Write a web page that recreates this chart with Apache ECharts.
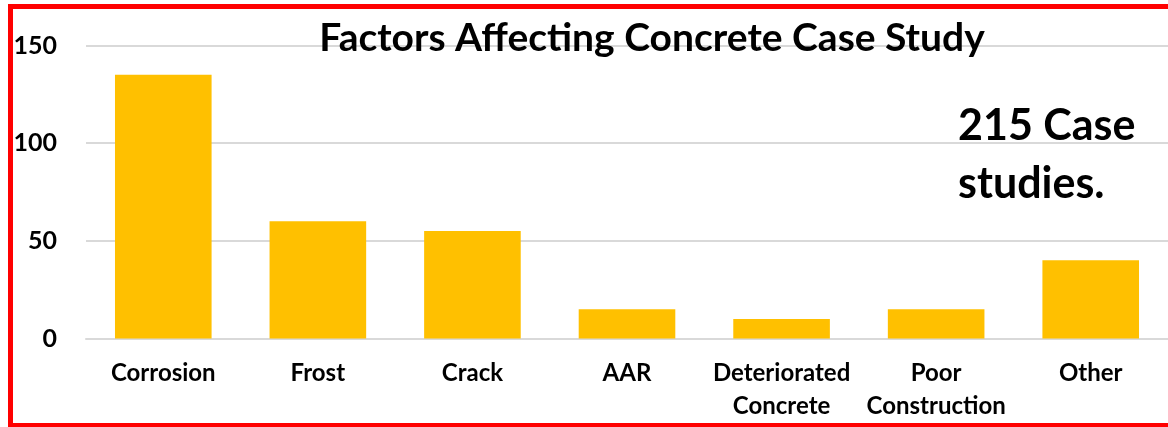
<!DOCTYPE html>
<html>
<head>
<meta charset="utf-8">
<script src="https://cdn.jsdelivr.net/npm/echarts@6/dist/echarts.min.js"></script>
<style>
html,body{margin:0;padding:0;background:#fff;}
#c{width:1168px;height:427px;}
</style>
</head>
<body>
<div id="c"></div>
<script>
const categories = ['Corrosion', 'Frost', 'Crack', 'AAR', 'Deteriorated\nConcrete', 'Poor\nConstruction', 'Other'];
const values = [135, 60, 55, 15, 10, 15, 40];
const yTicks = [0, 50, 100, 150];
const titleText = 'Factors Affecting Concrete Case Study';
const noteText = '215 Case\nstudies.';

const chart = echarts.init(document.getElementById('c'), null, {renderer: 'canvas'});
const FONT = 'Lato';
chart.setOption({
  animation: false,
  backgroundColor: '#ffffff',
  title: {
    text: titleText,
    left: 647,
    top: 14,
    textAlign: 'center',
    textStyle: {fontFamily: FONT, fontWeight: 'bold', fontSize: 39, color: '#000'}
  },
  grid: {left: 86, top: 45.5, width: 1085, height: 293, containLabel: false},
  xAxis: {
    type: 'category',
    data: categories,
    axisLine: {show: true, lineStyle: {color: '#d9d9d9', width: 2}},
    axisTick: {show: false},
    axisLabel: {
      fontFamily: FONT, fontWeight: 'bold', fontSize: 24, color: '#000',
      lineHeight: 33, margin: 18, interval: 0
    }
  },
  yAxis: {
    type: 'value',
    min: 0, max: 150, interval: 50,
    axisLine: {show: false},
    axisTick: {show: false},
    splitLine: {lineStyle: {color: '#d9d9d9', width: 2}},
    axisLabel: {
      fontFamily: FONT, fontWeight: 'bold', fontSize: 25, color: '#000', margin: 29,
      formatter: function (v) { return yTicks.indexOf(v) >= 0 ? String(v) : ''; }
    }
  },
  series: [{
    type: 'bar',
    data: values,
    barCategoryGap: '37.5%',
    itemStyle: {color: '#FFC000'},
    z: 1
  }],
  graphic: [
    {type: 'text', left: 958, top: 97, z: 10,
     style: {text: noteText, font: 'bold 43px Lato', fill: '#000', lineHeight: 58}},
    {type: 'rect', shape: {x: 8, y: 4, width: 1160, height: 5}, style: {fill: '#ff0000'}, z: 20},
    {type: 'rect', shape: {x: 8, y: 4, width: 5, height: 423}, style: {fill: '#ff0000'}, z: 20},
    {type: 'rect', shape: {x: 8, y: 423, width: 1160, height: 4}, style: {fill: '#ff0000'}, z: 20}
  ]
});
</script>
</body>
</html>
